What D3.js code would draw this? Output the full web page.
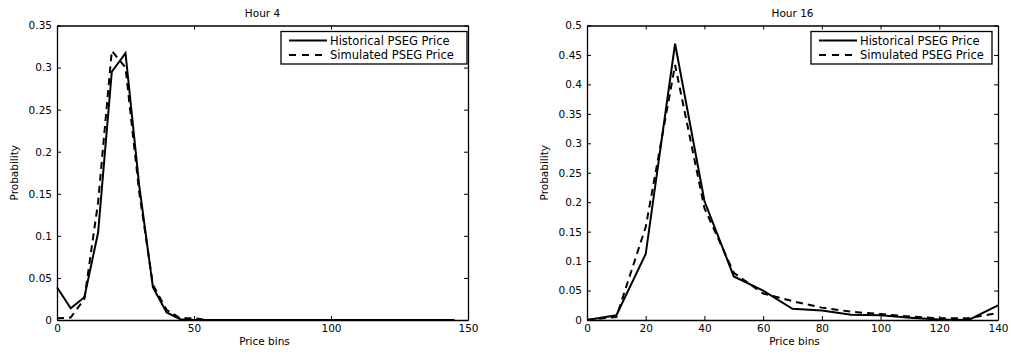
<!DOCTYPE html>
<html>
<head>
<meta charset="utf-8">
<script src="https://cdn.jsdelivr.net/npm/d3@7"></script>
<style>
  body { margin: 0; background: #fff; }
  text { font-family: "DejaVu Sans", sans-serif; fill: #000; }
</style>
</head>
<body>
<svg id="chart"></svg>
<script>
// Hour 4 (bins every 5)
let hour4Bins = [0, 5, 10, 15, 20, 25, 30, 35, 40, 45, 50, 55, 60, 65, 70, 75, 80, 85, 90, 95, 100, 105, 110, 115, 120, 125, 130, 135, 140, 145];
let hour4Hist = [0.039, 0.014, 0.027, 0.104, 0.295, 0.317, 0.16, 0.039, 0.009, 0.001, 0, 0, 0, 0, 0, 0, 0, 0, 0, 0, 0, 0, 0, 0, 0, 0, 0, 0, 0, 0];
let hour4Sim = [0.002, 0.003, 0.025, 0.14, 0.32, 0.3, 0.152, 0.042, 0.012, 0.002, 0.002, 0, 0, 0, 0, 0, 0, 0, 0, 0, 0, 0, 0, 0, 0, 0, 0, 0, 0, 0];
let hour4XTicks = [0, 50, 100, 150];
let hour4YTicks = [0, 0.05, 0.1, 0.15, 0.2, 0.25, 0.3, 0.35];

// Hour 16 (bins every 10)
let hour16Bins = [0, 10, 20, 30, 40, 50, 60, 70, 80, 90, 100, 110, 120, 130, 140];
let hour16Hist = [0, 0.008, 0.112, 0.469, 0.202, 0.074, 0.05, 0.019, 0.016, 0.009, 0.008, 0.004, 0.001, 0, 0.025];
let hour16Sim = [0, 0.005, 0.158, 0.433, 0.19, 0.08, 0.045, 0.032, 0.021, 0.014, 0.01, 0.006, 0.003, 0.003, 0.012];
let hour16XTicks = [0, 20, 40, 60, 80, 100, 120, 140];
let hour16YTicks = [0, 0.05, 0.1, 0.15, 0.2, 0.25, 0.3, 0.35, 0.4, 0.45, 0.5];

let seriesNames = ["Historical PSEG Price", "Simulated PSEG Price"];

let width = 1011;
let height = 354;

let svg = d3.select("#chart").attr("width", width).attr("height", height);

let fmt = (d) => String(+d.toFixed(2));

function drawPanel(opt) {
  let g = svg.append("g");
  let x = d3.scaleLinear().domain(opt.xDomain).range([opt.left, opt.right]);
  let y = d3.scaleLinear().domain(opt.yDomain).range([opt.bottom, opt.top]);

  // axes (ticks point inward, like matlab)
  let axes = [
    { ax: d3.axisBottom(x).tickValues(opt.xTicks).tickFormat(fmt), tr: [0, opt.bottom], lab: true, pad: 5 },
    { ax: d3.axisTop(x).tickValues(opt.xTicks), tr: [0, opt.top], lab: false, pad: 0 },
    { ax: d3.axisLeft(y).tickValues(opt.yTicks).tickFormat(fmt), tr: [opt.left, 0], lab: true, pad: 5 },
    { ax: d3.axisRight(y).tickValues(opt.yTicks), tr: [opt.right, 0], lab: false, pad: 0 },
  ];
  axes.forEach((a) => {
    let ag = g
      .append("g")
      .attr("transform", "translate(" + a.tr[0] + "," + a.tr[1] + ")")
      .call(a.ax.tickSizeInner(-4).tickSizeOuter(0).tickPadding(a.pad));
    ag.select(".domain").attr("stroke", "#000").attr("stroke-width", 1.3);
    ag.selectAll(".tick line").attr("stroke", "#000").attr("stroke-width", 1);
    if (a.lab) {
      ag.selectAll(".tick text").style("font-size", "10.5px").attr("font-family", null);
    } else {
      ag.selectAll(".tick text").remove();
    }
  });

  // lines
  let line = d3
    .line()
    .x((d) => x(d[0]))
    .y((d) => y(d[1]));

  g.append("path")
    .datum(opt.bins.map((b, i) => [b, opt.hist[i]]))
    .attr("fill", "none")
    .attr("stroke", "#000")
    .attr("stroke-width", 2)
    .attr("d", line);

  g.append("path")
    .datum(opt.bins.map((b, i) => [b, opt.sim[i]]))
    .attr("fill", "none")
    .attr("stroke", "#000")
    .attr("stroke-width", 2)
    .attr("stroke-dasharray", "7,5")
    .attr("d", line);

  // title + labels
  g.append("text")
    .attr("x", (opt.left + opt.right) / 2)
    .attr("y", 17)
    .attr("text-anchor", "middle")
    .style("font-size", "10.5px")
    .text(opt.title);

  g.append("text")
    .attr("x", (opt.left + opt.right) / 2 + 2)
    .attr("y", 345)
    .attr("text-anchor", "middle")
    .style("font-size", "10.5px")
    .text("Price bins");

  g.append("text")
    .attr("transform", "translate(" + opt.yLabX + "," + (opt.top + opt.bottom) / 2 + ") rotate(-90)")
    .attr("text-anchor", "middle")
    .style("font-size", "10.5px")
    .text("Probability");

  // legend
  let lg = g.append("g").attr("transform", "translate(" + opt.legX + "," + 31.5 + ")");
  lg.append("rect")
    .attr("width", opt.legW)
    .attr("height", 32.5)
    .attr("fill", "#fff")
    .attr("stroke", "#000")
    .attr("stroke-width", 1.3);
  seriesNames.forEach((name, i) => {
    let yy = 9 + i * 14.5;
    lg.append("line")
      .attr("x1", 8)
      .attr("x2", 46)
      .attr("y1", yy)
      .attr("y2", yy)
      .attr("stroke", "#000")
      .attr("stroke-width", 2)
      .attr("stroke-dasharray", i == 1 ? "7,6" : null);
    lg.append("text")
      .attr("x", 49)
      .attr("y", yy + 4)
      .style("font-size", "11.5px")
      .text(name);
  });
}

drawPanel({
  title: "Hour 4",
  left: 57, right: 468, top: 25.5, bottom: 320,
  xDomain: [0, 150], yDomain: [0, 0.35],
  xTicks: hour4XTicks, yTicks: hour4YTicks,
  bins: hour4Bins, hist: hour4Hist, sim: hour4Sim,
  yLabX: 18, legX: 281, legW: 186,
});

drawPanel({
  title: "Hour 16",
  left: 587, right: 998, top: 25.5, bottom: 320,
  xDomain: [0, 140], yDomain: [0, 0.5],
  xTicks: hour16XTicks, yTicks: hour16YTicks,
  bins: hour16Bins, hist: hour16Hist, sim: hour16Sim,
  yLabX: 548, legX: 811, legW: 181,
});
</script>
</body>
</html>
